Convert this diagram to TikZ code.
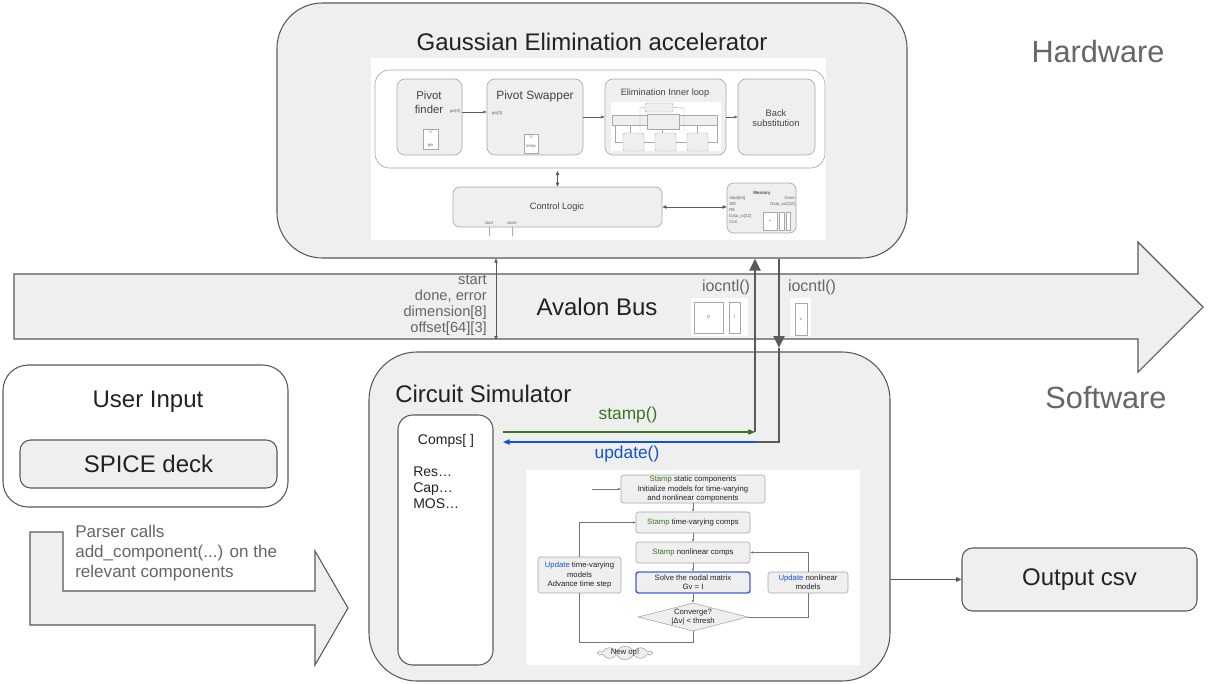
\documentclass[tikz,border=0pt]{standalone}
\usepackage{fontspec}
\setmainfont{Liberation Sans}
\usetikzlibrary{arrows.meta,shapes.geometric,shapes.symbols,fit}
\definecolor{boxfill}{HTML}{EFEFEF}
\definecolor{edge}{HTML}{595959}
\definecolor{lbl}{HTML}{666666}
\definecolor{ink}{HTML}{222222}
\definecolor{grn}{HTML}{38761D}
\definecolor{blu}{HTML}{1155CC}
\definecolor{light}{HTML}{A8A8A8}
\definecolor{solveblue}{HTML}{4A5BEA}
\newcommand{\fsz}[2]{\fontsize{#1}{#2}\selectfont}
\begin{document}
\begin{tikzpicture}[x=0.75pt,y=-0.75pt,
  bigbox/.style={draw=edge,fill=boxfill,line width=0.8pt,inner sep=0pt},
  whitebox/.style={draw=edge,fill=white,line width=0.8pt,inner sep=0pt},
  hwsub/.style={draw=light,fill=boxfill,line width=0.5pt,inner sep=0pt,rounded corners=6pt},
  tinybox/.style={draw=light,fill=white,line width=0.35pt,inner sep=0pt},
  fcbox/.style={draw=light,fill=boxfill,line width=0.45pt,inner sep=0pt,rounded corners=2pt},
  fctext/.style={font=\fsz{5.8}{6.8},text=ink,align=center,inner sep=0pt},
  title/.style={font=\fsz{18}{21},text=ink,inner sep=0pt},
  side/.style={font=\fsz{23}{27},text=lbl,inner sep=0pt},
  lab/.style={font=\fsz{11}{12},text=lbl,inner sep=0pt},
  tinytxt/.style={font=\fsz{3.2}{4.5},text=lbl,inner sep=0pt},
  thickarr/.style={draw=edge,line width=2.2pt,-{Triangle[length=9pt,width=8pt]}},
  thickline/.style={draw=edge,line width=2.2pt},
  thinarr/.style={draw=edge,line width=0.7pt,-{Triangle[length=5pt,width=4pt]}},
  smallarr/.style={draw=edge,line width=0.45pt,-{Triangle[length=2.5pt,width=2pt]}},
  dblarr/.style={draw=edge,line width=0.6pt,{Triangle[length=3pt,width=2.5pt]}-{Triangle[length=3pt,width=2.5pt]}},
  fcarr/.style={draw=light!70!black,line width=0.4pt,-{Triangle[length=2pt,width=1.6pt]}},
  schem/.style={draw=light,line width=0.3pt},
]
\path[use as bounding box,fill=white] (0,0) rectangle (1211,683);

% ---------------- Hardware block ----------------
\node[bigbox,rounded corners=34pt,fit={(277,3)(907,258)}] (hw) {};
\node[title] (hwt) at (592,42) {Gaussian Elimination accelerator};
\node[fill=white,inner sep=0pt,fit={(371,58)(826,240)}] (hwimg) {};
\node[draw=light,line width=0.5pt,rounded corners=11pt,inner sep=0pt,fit={(375,70)(825,168)}] (pipe) {};

\node[hwsub,fit={(397,79)(462,155)}] (pf) {};
\node[font=\fsz{8.5}{10.5},text=ink!85,align=center,inner sep=0pt] (pft) at (429,102) {Pivot\\finder};
\node[tinybox,fit={(423,129)(438,149)}] (pfr) {};
\draw[schem] ([xshift=-2pt]pfr.north) -- ([yshift=-3pt]pfr.north) -- ([xshift=2pt]pfr.north);
\node[tinytxt] (pfrt) at (430.5,145) {piv};

\node[hwsub,fit={(487,79)(583,155)}] (ps) {};
\node[font=\fsz{9}{11},text=ink!85,inner sep=0pt] (pst) at (535,96) {Pivot Swapper};
\node[tinybox,fit={(524,134)(538,153)}] (psr) {};
\draw[schem] ([xshift=-2pt]psr.north) -- ([yshift=-3pt]psr.north) -- ([xshift=2pt]psr.north);
\node[tinytxt] (psrt) at (531,147) {temp};

\coordinate (pvy) at (0,112);
\draw[smallarr] (pf.east |- pvy) -- (ps.west |- pvy);
\node[tinytxt] (pv1) at (455,111) {piv[0]};
\node[tinytxt] (pv2) at (497,113) {piv[0]};

\node[hwsub,fit={(605,79)(726,155)}] (el) {};
\node[font=\fsz{6.9}{8},text=ink!85,inner sep=0pt] (elt) at (665,93) {Elimination Inner loop};
\node[fill=white,inner sep=0pt,fit={(611,102)(721,151)}] (elimg) {};
\node[schem,fill=boxfill,inner sep=0pt,rounded corners=1.5pt,fit={(645,103)(673,112)}] (e1) {};
\node[schem,fill=boxfill,inner sep=0pt,fit={(612,115)(717,125)}] (e2) {};
\node[schem,fill=boxfill,inner sep=0pt,fit={(647,114)(679,129)}] (e3) {};
\node[schem,fill=boxfill,inner sep=0pt,rounded corners=1.5pt,fit={(623,133)(644,151)}] (e4) {};
\node[schem,fill=boxfill,inner sep=0pt,rounded corners=1.5pt,fit={(655,133)(676,151)}] (e5) {};
\node[schem,fill=boxfill,inner sep=0pt,rounded corners=1.5pt,fit={(687,133)(708,151)}] (e6) {};
\draw[schem] (615,125) -- (615,142) -- (e4.west |- 0,142);
\draw[schem] (e4.east |- 0,142) -- (e5.west |- 0,142);
\draw[schem] (e5.east |- 0,142) -- (e6.west |- 0,142);
\draw[schem] (e6.east |- 0,142) -- (717,142) -- (717,125);
\draw[schem] (e1.west) -- (640,108) -- (640,131);
\draw[schem] (e1.east) -- (684,108) -- (684,131);
\draw[schem] (630,125) -- (630,133);
\draw[schem] (662,129) -- (662,133);
\draw[schem] (697,125) -- (697,133);

\node[hwsub,fit={(738,79)(815,155)}] (bk) {};
\node[font=\fsz{7}{7.8},text=ink!85,align=center,inner sep=0pt] (bkt) at (776,118) {Back\\substitution};

\draw[smallarr] (ps) -- (el);
\draw[smallarr] (el) -- (bk);

\node[hwsub,rounded corners=5pt,fit={(453,187)(662,227)}] (ctrl) {};
\node[font=\fsz{6.9}{8},text=ink!85,inner sep=0pt] (ctrlt) at (557,207) {Control Logic};
\node[hwsub,rounded corners=5pt,fit={(727,183)(796,233)}] (mem) {};
\draw[dblarr,shorten <=2pt] (ctrl.north |- pipe.south) -- (ctrl.north);
\draw[dblarr] (ctrl.east) -- (mem.west |- ctrl.east);
\coordinate (stc) at (489,236);
\coordinate (dnc) at (512,236);
\draw[schem,line width=0.4pt] (ctrl.south -| stc) -- (stc);
\draw[schem,line width=0.4pt] (ctrl.south -| dnc) -- (dnc);
\node[tinytxt] (stt) at (489,223) {start};
\node[tinytxt] (dnt) at (512,223) {done};
\node[font=\bfseries\fsz{3.4}{4.5},text=ink!80,inner sep=0pt] (memt) at (762,193) {Memory};
\node[tinytxt,anchor=north west,align=left] (meml) at (729,196) {Addr[64]\\WE\\RE\\Data\_in[32]\\CLK};
\node[tinytxt,anchor=north east,align=right] (memr) at (795,196) {Done\\Data\_out[32]};
\node[tinybox,fit={(763,212)(777,230)}] (m1) {};
\node[tinytxt] (m1t) at (m1) {+};
\node[tinybox,fit={(779,212)(784,230)}] (m2) {};
\node[tinybox,fit={(786,212)(790,230)}] (m3) {};

% ---------------- Side labels ----------------
\node[side] (hwlabel) at (1098,52) {Hardware};
\node[side] (swlabel) at (1106,398) {Software};

% ---------------- Avalon bus ----------------
\draw[draw=edge,fill=boxfill,line width=0.8pt] (14,274) -- (1138,274) -- (1138,242) -- (1203,307) -- (1138,372) -- (1138,339) -- (14,339) -- cycle;
\node[title] (bus) at (597,307) {Avalon Bus};
\node[lab,anchor=east,align=right] (buslab) at (487,305) {start\\done, error\\dimension[8]\\offset[64][3]};
\coordinate (busx) at (496,340);
\draw[dblarr,line width=0.5pt] (hw.south -| busx) -- (busx);

\node[lab,font=\fsz{12}{13}] (io1) at (726,287) {iocntl()};
\node[lab,font=\fsz{12}{13}] (io2) at (812,287) {iocntl()};
\node[fill=white,inner sep=0pt,fit={(691,298)(748,336)}] (iop1) {};
\node[tinybox,fit={(694,302)(723,333)}] (iob1) {};
\node[tinytxt] (iob1t) at (iob1) {G};
\node[tinybox,fit={(729,302)(740,333)}] (iob2) {};
\node[tinytxt] (iob2t) at (iob2) {I};
\node[fill=white,inner sep=0pt,fit={(790,298)(811,336)}] (iop2) {};
\node[tinybox,fit={(795,303)(807,335)}] (iob3) {};
\node[tinytxt] (iob3t) at (iob3) {v};

% ---------------- Circuit simulator ----------------
\node[bigbox,rounded corners=36pt,fit={(369,352)(890,681)}] (cs) {};
\node[title,anchor=west] (cst) at (395,394) {Circuit Simulator};
\node[whitebox,rounded corners=11pt,fit={(398,415)(493,665)}] (comps) {};
\node[font=\fsz{10.5}{12},text=ink,inner sep=0pt] (compst) at (446,441) {Comps[ ]};
\node[font=\fsz{10.5}{12},text=ink,anchor=north west,align=left,inner sep=0pt] (compsl) at (413,467) {Res…\\Cap…\\MOS…};

% thick hardware/software connectors
\coordinate (upb) at (755,432);
\coordinate (dnb) at (779,442);
\coordinate (dnh) at (779,348);
\draw[thickarr] (upb) -- (upb |- hw.south);
\draw[thickarr] (hw.south -| dnb) -- (dnh);
\draw[thickline] (dnh) -- (dnb) -- (upb |- dnb);

\coordinate (stl) at (503,432);
\coordinate (upl) at (503,442);
\draw[grn,line width=0.9pt,-{Triangle[length=5pt,width=4pt]}] (stl) -- (upb);
\draw[blu,line width=0.9pt,-{Triangle[length=5pt,width=4pt]}] (upb |- dnb) -- (upl);
\node[font=\fsz{13}{15},text=grn,inner sep=0pt] (stamp) at (628,415) {stamp()};
\node[font=\fsz{13}{15},text=blu,inner sep=0pt] (update) at (627,454) {update()};

% flowchart
\node[fill=white,inner sep=0pt,fit={(526,470)(860,665)}] (fcimg) {};
\node[fcbox,minimum width=108pt,minimum height=21pt] (b1) at (693,489) {};
\node[fctext] (b1t) at (b1) {\textcolor{grn}{Stamp} static components\\Initialize models for time-varying\\and nonlinear components};
\node[fcbox,minimum width=85.5pt,minimum height=15.75pt] (b2) at (693,522.5) {};
\node[fctext] (b2t) at (b2) {\textcolor{grn}{Stamp} time-varying comps};
\node[fcbox,minimum width=85.5pt,minimum height=15.75pt] (b3) at (693,552.5) {};
\node[fctext] (b3t) at (b3) {\textcolor{grn}{Stamp} nonlinear comps};
\node[fcbox,draw=solveblue,line width=1.1pt,minimum width=85.5pt,minimum height=15.75pt] (b4) at (693,582.5) {};
\node[fctext] (b4t) at (b4) {Solve the nodal matrix\\Gv = I};
\node[diamond,draw=light,fill=boxfill,line width=0.45pt,inner sep=0pt,minimum width=82.5pt,minimum height=21pt] (dia) at (693,617) {};
\node[fctext] (diat) at (dia) {Converge?\\|Δv| < thresh};
\node[fcbox,minimum width=62.25pt,minimum height=27pt] (lb) at (579.5,575) {};
\node[fctext] (lbt) at (lb) {\textcolor{blu}{Update} time-varying\\models\\Advance time step};
\node[fcbox,minimum width=60pt,minimum height=15.75pt] (rb) at (808,582.5) {};
\node[fctext] (rbt) at (rb) {\textcolor{blu}{Update} nonlinear\\models};
\node[cloud,cloud puffs=10,cloud puff arc=120,cloud ignores aspect,draw=light,fill=boxfill,line width=0.45pt,inner sep=0pt,minimum width=40pt,minimum height=10pt] (newop) at (625,653) {};
\node[fctext] (newopt) at (newop) {New op!};

\coordinate (fcin) at (592,489);
\draw[fcarr] (fcin) -- (b1.west);
\draw[fcarr] (b1) -- (b2);
\draw[fcarr] (b2) -- (b3);
\draw[fcarr] (b3) -- (b4);
\draw[fcarr] (b4) -- (dia);
\draw[draw=light!70!black,line width=0.4pt] (dia.south) -- (693,642) -- (lb.south |- 0,642) -- (lb.south);
\draw[fcarr] (lb.north) |- (b2.west);
\draw[draw=light!70!black,line width=0.4pt] (dia.east) -| (rb.south);
\draw[fcarr] (rb.north) |- (b3.east);

% ---------------- User input ----------------
\node[whitebox,rounded corners=19pt,fit={(3,365)(288,507)}] (ui) {};
\node[title] (uit) at (148,402) {User Input};
\node[bigbox,rounded corners=8pt,fit={(20,440)(277,488)}] (spice) {};
\node[title] (spicet) at (spice) {SPICE deck};

% parser arrow
\draw[draw=edge,fill=boxfill,line width=0.8pt] (30,532) -- (63,532) -- (63,591) -- (315,591) -- (315,551) -- (348,608) -- (315,665) -- (315,625) -- (30,625) -- cycle;
\node[font=\fsz{12.8}{15},text=lbl,anchor=north west,align=left,inner sep=0pt] (parser) at (75,525) {Parser calls\\add\_component(...) on the\\relevant components};

% ---------------- Output ----------------
\node[bigbox,rounded corners=8pt,fit={(962,548)(1197,611)}] (out) {};
\node[title] (outt) at (out) {Output csv};
\draw[thinarr,line width=0.6pt,-{Triangle[length=4pt,width=3.5pt]}] (cs.east |- out.west) -- (out.west);
\end{tikzpicture}
\end{document}
